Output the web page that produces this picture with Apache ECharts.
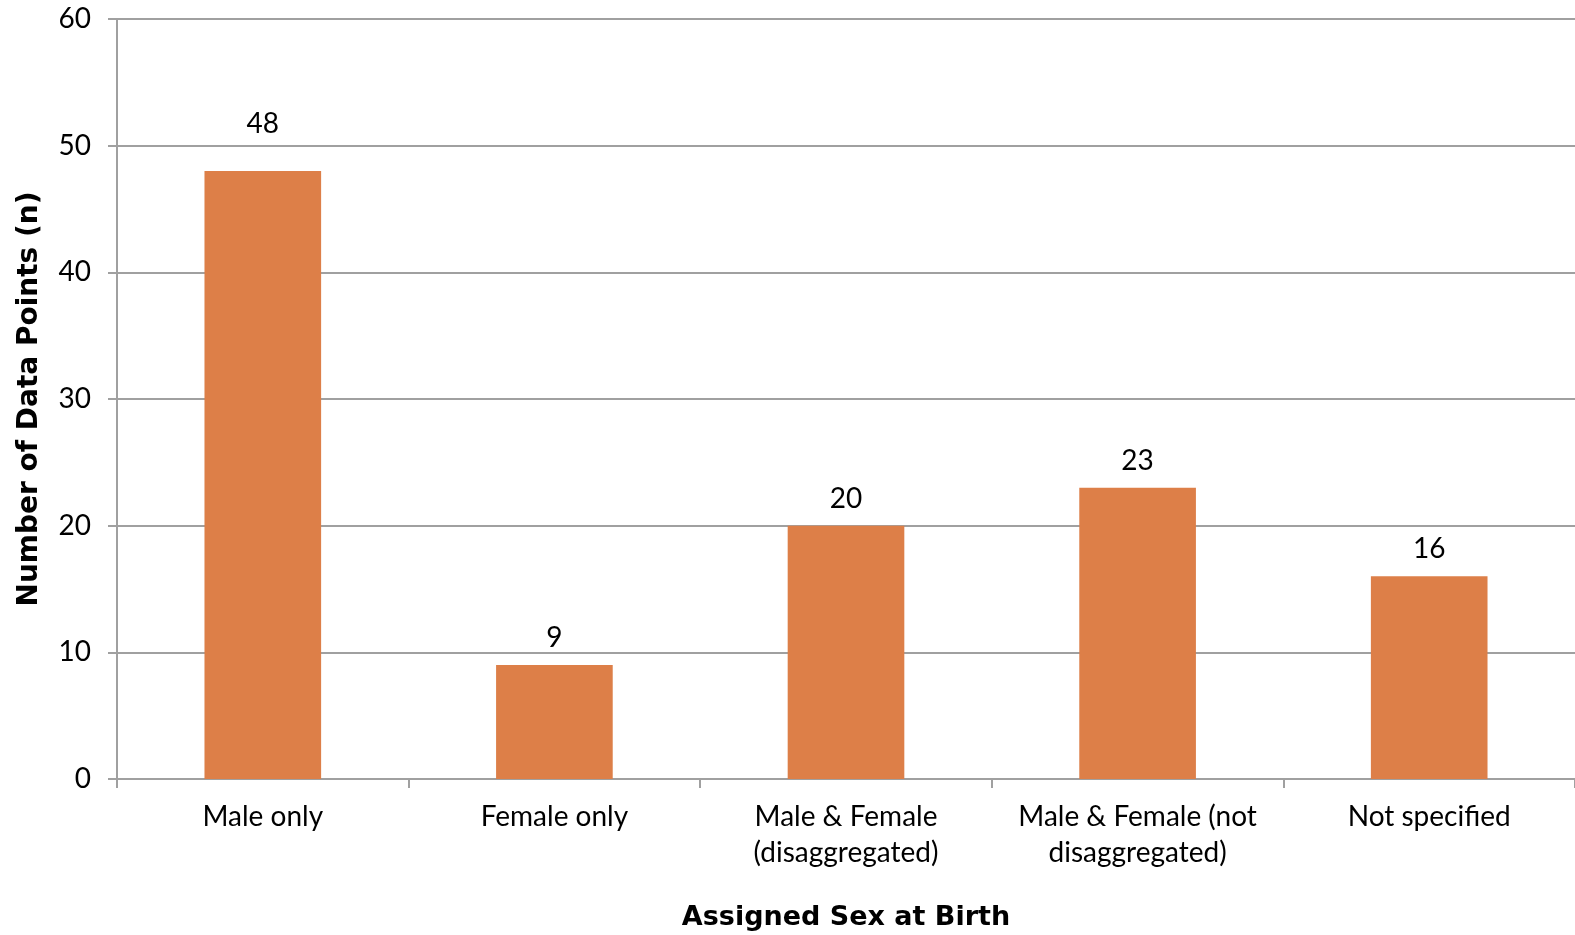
<!DOCTYPE html>
<html>
<head>
<meta charset="utf-8">
<script src="https://cdn.jsdelivr.net/npm/echarts@6/dist/echarts.min.js"></script>
<style>
  html, body { margin: 0; padding: 0; background: #fff; }
  #chart { width: 1575px; height: 935px; }
</style>
</head>
<body>
<div id="chart"></div>
<script>
// Study data points grouped by assigned sex at birth
const categories = [
  'Male only',
  'Female only',
  'Male & Female\n(disaggregated)',
  'Male & Female (not\ndisaggregated)',
  'Not specified'
];
const counts = [48, 9, 20, 23, 16];
const yTicks = { min: 0, max: 60, interval: 10 };

const FONT = 'Lato, "Noto Sans", sans-serif';
const TITLE_FONT = '"DejaVu Sans", sans-serif';
const AXIS_GRAY = '#a0a0a0';

// the tallest bar's label sits a little higher than the rest
const barData = counts.map((v, i) => ({
  value: v,
  label: { distance: i === 0 ? 33 : 13 }
}));

const chart = echarts.init(document.getElementById('chart'));
chart.setOption({
  animation: false,
  textStyle: { fontFamily: FONT },
  grid: { left: 117, right: 0, top: 19, bottom: 156, containLabel: false, outerBoundsMode: 'none' },
  xAxis: {
    type: 'category',
    data: categories,
    name: 'Assigned Sex at Birth',
    nameLocation: 'middle',
    nameGap: 125,
    nameTextStyle: { fontSize: 27, fontWeight: 'bold', color: '#000', fontFamily: TITLE_FONT },
    axisLine: { lineStyle: { color: AXIS_GRAY, width: 2 } },
    axisTick: { show: true, length: 9, lineStyle: { color: AXIS_GRAY, width: 2 } },
    axisLabel: { fontSize: 28, color: '#000', margin: 20, lineHeight: 36, interval: 0, fontFamily: FONT }
  },
  yAxis: {
    type: 'value',
    min: yTicks.min,
    max: yTicks.max,
    interval: yTicks.interval,
    name: 'Number of Data Points (n)',
    nameLocation: 'middle',
    nameGap: 73,
    nameTextStyle: { fontSize: 28, fontWeight: 'bold', color: '#000', fontFamily: TITLE_FONT },
    axisLine: { show: true, lineStyle: { color: AXIS_GRAY, width: 2 } },
    axisTick: { show: true, length: 9, lineStyle: { color: AXIS_GRAY, width: 2 } },
    axisLabel: { fontSize: 28, color: '#000', margin: 26, fontFamily: FONT },
    splitLine: { show: true, lineStyle: { color: AXIS_GRAY, width: 2 } }
  },
  series: [{
    type: 'bar',
    data: barData,
    barWidth: '40%',
    itemStyle: { color: '#dd7f48' },
    label: {
      show: true,
      position: 'top',
      fontSize: 28,
      color: '#000',
      fontFamily: FONT
    }
  }]
});
</script>
</body>
</html>
